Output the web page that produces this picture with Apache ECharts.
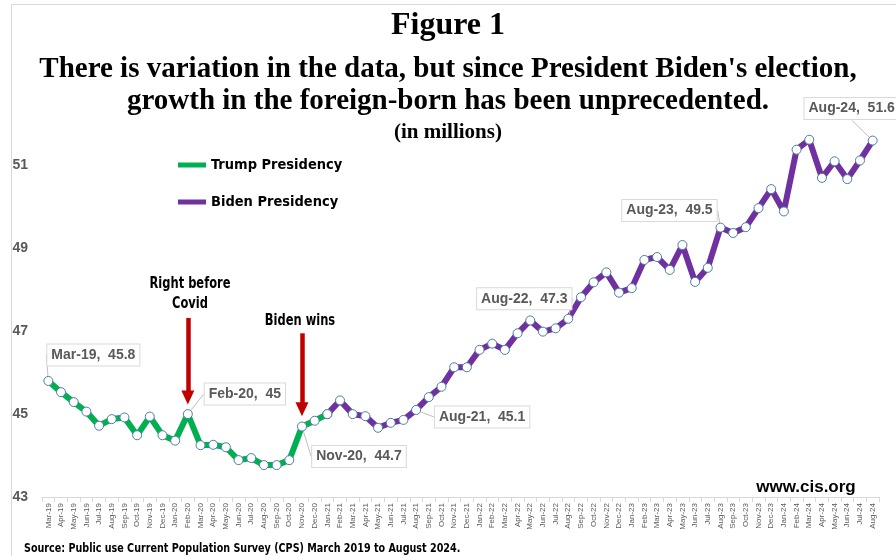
<!DOCTYPE html>
<html>
<head>
<meta charset="utf-8">
<script src="https://cdn.jsdelivr.net/npm/echarts@6/dist/echarts.min.js"></script>
<style>
  html, body { margin: 0; padding: 0; background: #ffffff; }
  #chart { width: 896px; height: 556px; }
</style>
</head>
<body>
<div id="chart"></div>
<script>
// Monthly CPS estimates of the foreign-born population (millions), Mar-2019 .. Aug-2024
const months = [
  'Mar-19','Apr-19','May-19','Jun-19','Jul-19','Aug-19','Sep-19','Oct-19','Nov-19','Dec-19',
  'Jan-20','Feb-20','Mar-20','Apr-20','May-20','Jun-20','Jul-20','Aug-20','Sep-20','Oct-20','Nov-20','Dec-20',
  'Jan-21','Feb-21','Mar-21','Apr-21','May-21','Jun-21','Jul-21','Aug-21','Sep-21','Oct-21','Nov-21','Dec-21',
  'Jan-22','Feb-22','Mar-22','Apr-22','May-22','Jun-22','Jul-22','Aug-22','Sep-22','Oct-22','Nov-22','Dec-22',
  'Jan-23','Feb-23','Mar-23','Apr-23','May-23','Jun-23','Jul-23','Aug-23','Sep-23','Oct-23','Nov-23','Dec-23',
  'Jan-24','Feb-24','Mar-24','Apr-24','May-24','Jun-24','Jul-24','Aug-24'
];

const foreignBorn = [
  45.8, 45.53, 45.29, 45.06, 44.72, 44.88, 44.92, 44.49, 44.94, 44.49,
  44.36, 45.0, 44.25, 44.26, 44.20, 43.89, 43.94, 43.77, 43.77, 43.89, 44.7, 44.84,
  45.00, 45.33, 45.00, 44.95, 44.67, 44.79, 44.86, 45.1, 45.41, 45.66, 46.13, 46.13,
  46.55, 46.70, 46.55, 46.95, 47.26, 46.99, 47.07, 47.3, 47.82, 48.18, 48.42, 47.93,
  48.04, 48.72, 48.79, 48.48, 49.08, 48.19, 48.53, 49.5, 49.37, 49.51, 49.97, 50.43,
  49.89, 51.38, 51.62, 50.70, 51.10, 50.67, 51.12, 51.6
];

// The Trump line runs through Jan-21, where the Biden line picks up
const trumpLast = 'Jan-21';
const bidenFirst = 'Jan-21';

// Months that carry a "month, value" call-out
const calloutMonths = ['Mar-19', 'Feb-20', 'Nov-20', 'Aug-21', 'Aug-22', 'Aug-23', 'Aug-24'];

// Y-axis ticks
const yTicks = [43, 45, 47, 49, 51];

// Red arrows: [month, start value, end value]
const arrows = [
  ['Feb-20', 47.32, 45.40],
  ['Nov-20', 46.95, 45.12]
];

// Call-out box offsets from their point (pixels)
const calloutOffsets = {
  'Mar-19': [45, -26],
  'Feb-20': [57, -20],
  'Nov-20': [57, 30],
  'Aug-21': [66, 7],
  'Aug-22': [-44, -20],
  'Aug-23': [-51, -17],
  'Aug-24': [-21, -32]
};

const GREEN = '#00b050';
const PURPLE = '#7030a0';
const RED = '#c00000';
const GRAY = '#595959';
const NARROW = "'DejaVu Sans Condensed', 'Liberation Sans', sans-serif";
const SANS = "'Liberation Sans', Arial, sans-serif";
const SERIF = "'Liberation Serif', 'Times New Roman', serif";

const tEnd = months.indexOf(trumpLast);
const bStart = months.indexOf(bidenFirst);

function point(i, v) {
  if (calloutMonths.indexOf(months[i]) >= 0) {
    return { value: v, label: { show: true } };
  }
  return v;
}

const trumpData = foreignBorn.map((v, i) => (i <= tEnd ? point(i, v) : null));
const bidenData = foreignBorn.map((v, i) => (i >= bStart ? point(i, v) : null));

const calloutLabel = {
  show: false,
  position: 'inside',
  formatter: '{b},  {c}',
  color: GRAY,
  fontFamily: SANS,
  fontWeight: 'bold',
  fontSize: 14,
  backgroundColor: '#ffffff',
  borderColor: '#d9d9d9',
  borderWidth: 1,
  padding: [4, 4, 3, 4]
};

function layoutCallout(params) {
  const off = calloutOffsets[months[params.dataIndex]];
  if (!off) return {};
  return { dx: off[0], dy: off[1] };
}

const markerStyle = { color: '#ffffff', borderColor: '#4a7ea8', borderWidth: 1 };

const chart = echarts.init(document.getElementById('chart'), null, { renderer: 'canvas' });

chart.setOption({
  animation: false,
  backgroundColor: '#ffffff',
  title: [
    { text: 'Figure 1', left: 'center', top: 5,
      textStyle: { fontFamily: SERIF, fontWeight: 'bold', fontSize: 32, color: '#000' } },
    { text: "There is variation in the data, but since President Biden's election,", left: 'center', top: 50,
      textStyle: { fontFamily: SERIF, fontWeight: 'bold', fontSize: 29, color: '#000' } },
    { text: 'growth in the foreign-born has been unprecedented.', left: 'center', top: 82,
      textStyle: { fontFamily: SERIF, fontWeight: 'bold', fontSize: 29, color: '#000' } },
    { text: '(in millions)', left: 'center', top: 117,
      textStyle: { fontFamily: SERIF, fontWeight: 'bold', fontSize: 21, color: '#000' } }
  ],
  legend: {
    orient: 'vertical',
    left: 178,
    top: 156,
    padding: 0,
    icon: 'rect',
    itemWidth: 28,
    itemHeight: 5,
    itemGap: 19,
    selectedMode: false,
    textStyle: { fontFamily: NARROW, fontWeight: 'bold', fontSize: 14.5, color: '#000', lineHeight: 18 },
    data: [
      { name: 'Trump Presidency', itemStyle: { color: GREEN, borderWidth: 0 } },
      { name: 'Biden Presidency', itemStyle: { color: PURPLE, borderWidth: 0 } }
    ]
  },
  grid: { left: 42, right: 17, top: 124, bottom: 59 },
  xAxis: {
    type: 'category',
    data: months,
    boundaryGap: true,
    axisLine: { lineStyle: { color: '#d9d9d9', width: 1 } },
    axisTick: { show: true, interval: 0, length: 5, lineStyle: { color: '#d9d9d9' } },
    axisLabel: { interval: 0, rotate: 90, fontSize: 8, color: GRAY, fontFamily: SANS, margin: 6 }
  },
  yAxis: {
    type: 'value',
    min: yTicks[0],
    max: 52,
    interval: yTicks[1] - yTicks[0],
    splitLine: { show: false },
    axisLine: { show: false },
    axisTick: { show: false },
    axisLabel: { showMaxLabel: false, color: GRAY, fontFamily: SANS, fontWeight: 'bold', fontSize: 14, margin: 14 }
  },
  series: [
    {
      name: 'Trump Presidency',
      type: 'line',
      data: trumpData,
      connectNulls: false,
      symbol: 'circle',
      symbolSize: 9,
      showAllSymbol: true,
      lineStyle: { color: GREEN, width: 6 },
      itemStyle: markerStyle,
      label: calloutLabel,
      labelLine: { show: true, lineStyle: { color: '#bfbfbf', width: 1 } },
      labelLayout: layoutCallout,
      z: 3,
      markLine: {
        silent: true,
        symbol: ['none', 'triangle'],
        symbolSize: [13, 14],
        label: { show: false },
        lineStyle: { color: RED, width: 4.5, type: 'solid' },
        emphasis: { disabled: true },
        data: arrows.map(a => [{ coord: [a[0], a[1]] }, { coord: [a[0], a[2]] }])
      }
    },
    {
      name: 'Biden Presidency',
      type: 'line',
      data: bidenData,
      connectNulls: false,
      symbol: 'circle',
      symbolSize: 9,
      showAllSymbol: true,
      lineStyle: { color: PURPLE, width: 6 },
      itemStyle: markerStyle,
      label: calloutLabel,
      labelLine: { show: true, lineStyle: { color: '#bfbfbf', width: 1 } },
      labelLayout: layoutCallout,
      z: 3
    }
  ],
  graphic: [
    { type: 'rect', silent: true, z: -1,
      shape: { x: 11.5, y: 4.5, width: 900, height: 600 },
      style: { fill: 'none', stroke: '#d9d9d9', lineWidth: 1 } },
    { type: 'text', silent: true, x: 190, y: 294, scaleX: 0.85,
      style: { text: 'Right before\nCovid', fill: '#000', font: 'bold 15px ' + NARROW,
               align: 'center', verticalAlign: 'middle', lineHeight: 20 } },
    { type: 'text', silent: true, x: 300, y: 321, scaleX: 0.85,
      style: { text: 'Biden wins', fill: '#000', font: 'bold 15px ' + NARROW,
               align: 'center', verticalAlign: 'middle' } },
    { type: 'text', silent: true, x: 806, y: 487,
      style: { text: 'www.cis.org', fill: '#000', font: 'bold 17px ' + SANS,
               align: 'center', verticalAlign: 'middle' } },
    { type: 'text', silent: true, x: 24, y: 549, scaleX: 0.82,
      style: { text: 'Source: Public use Current Population Survey (CPS) March 2019 to August 2024.',
               fill: '#000', font: 'bold 13px ' + NARROW, align: 'left', verticalAlign: 'middle' } }
  ]
});
</script>
</body>
</html>
